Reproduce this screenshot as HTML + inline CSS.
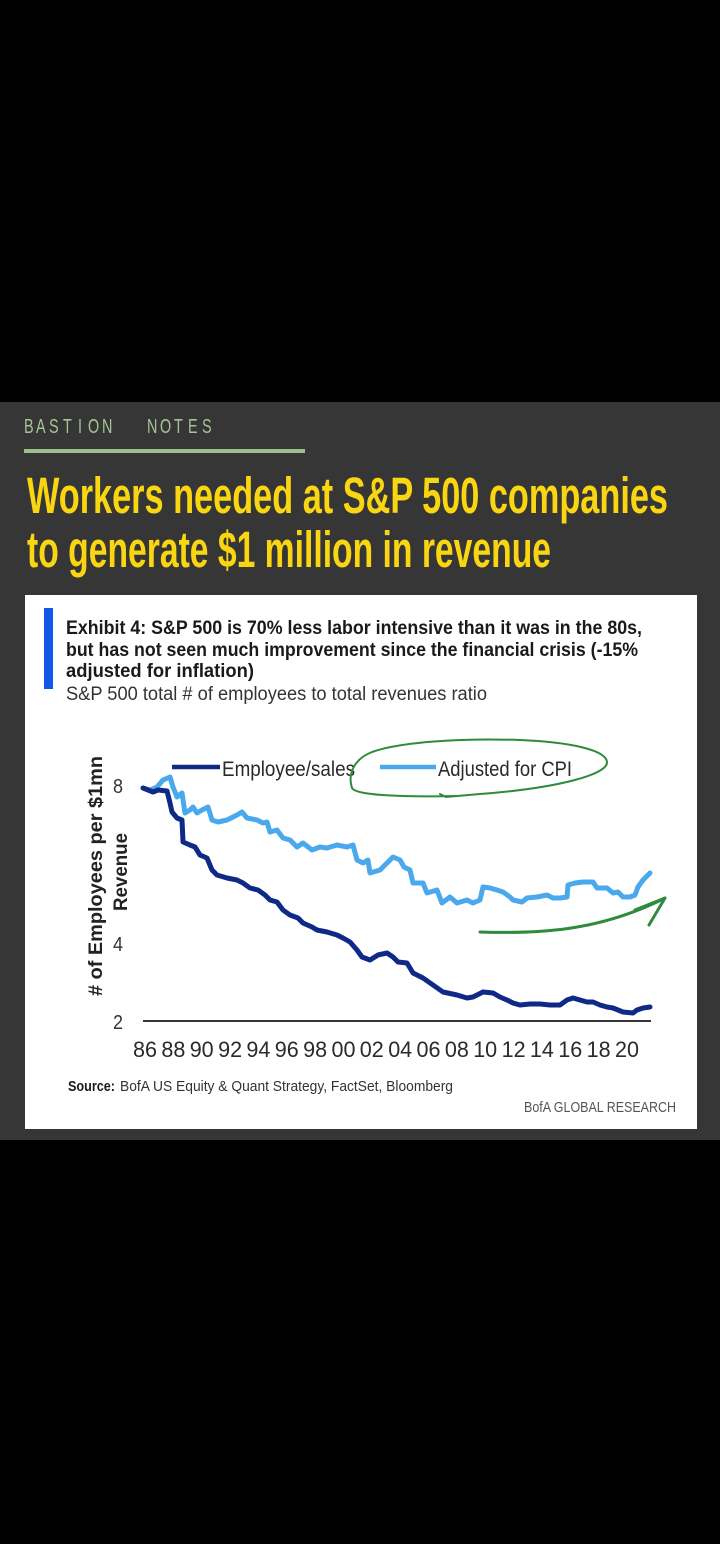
<!DOCTYPE html>
<html>
<head>
<meta charset="utf-8">
<style>
  html,body{margin:0;padding:0;background:#000;}
  body{width:720px;height:1544px;overflow:hidden;}
  svg{display:block;}
</style>
</head>
<body>
<svg width="720" height="1544" viewBox="0 0 720 1544" xmlns="http://www.w3.org/2000/svg">
  <rect x="0" y="0" width="720" height="1544" fill="#000"/>
  <!-- dark panel -->
  <rect x="0" y="402" width="720" height="738" fill="#363636"/>

  <!-- BASTION NOTES -->
  <g transform="translate(0,433) scale(0.72,1)">
    <text y="0" font-family="Liberation Sans, sans-serif" font-size="20" fill="#a6c495"
          x="33.3 50 68.1 87.5 108.3 122.2 141.7 204.2 222.2 241.7 261.1 280.6">BASTIONNOTES</text>
  </g>
  <rect x="24" y="449" width="281" height="4" fill="#9dbf8b"/>

  <!-- Title -->
  <text x="27" y="513" font-family="Liberation Sans, sans-serif" font-weight="bold" font-size="51" fill="#f9d611"
        textLength="641" lengthAdjust="spacingAndGlyphs">Workers needed at S&amp;P 500 companies</text>
  <text x="27" y="567" font-family="Liberation Sans, sans-serif" font-weight="bold" font-size="51" fill="#f9d611"
        textLength="524" lengthAdjust="spacingAndGlyphs">to generate $1 million in revenue</text>

  <!-- white card -->
  <rect x="25" y="595" width="672" height="534" fill="#ffffff"/>
  <rect x="44" y="608" width="9" height="81" fill="#1356e8"/>

  <g font-family="Liberation Sans, sans-serif" fill="#1a1a1a">
    <text x="66" y="634" font-size="19" font-weight="bold" textLength="576" lengthAdjust="spacingAndGlyphs">Exhibit 4: S&amp;P 500 is 70% less labor intensive than it was in the 80s,</text>
    <text x="66" y="656" font-size="19" font-weight="bold" textLength="572" lengthAdjust="spacingAndGlyphs">but has not seen much improvement since the financial crisis (-15%</text>
    <text x="66" y="677" font-size="19" font-weight="bold" textLength="188" lengthAdjust="spacingAndGlyphs">adjusted for inflation)</text>
    <text x="66" y="700" font-size="19" fill="#333" textLength="421" lengthAdjust="spacingAndGlyphs">S&amp;P 500 total # of employees to total revenues ratio</text>
  </g>

  <!-- legend -->
  <line x1="172" y1="767" x2="220" y2="767" stroke="#0f2a86" stroke-width="4.5"/>
  <text x="222" y="776" font-family="Liberation Sans, sans-serif" font-size="21" fill="#2a2a2a" textLength="133" lengthAdjust="spacingAndGlyphs">Employee/sales</text>
  <line x1="380" y1="767" x2="436" y2="767" stroke="#4aa8ec" stroke-width="4.5"/>
  <text x="438" y="776" font-family="Liberation Sans, sans-serif" font-size="21" fill="#2a2a2a" textLength="134" lengthAdjust="spacingAndGlyphs">Adjusted for CPI</text>

  <!-- y-axis title -->
  <g font-family="Liberation Sans, sans-serif" font-weight="bold" font-size="19" fill="#222">
    <text transform="translate(102,876) rotate(-90)" text-anchor="middle" textLength="240" lengthAdjust="spacingAndGlyphs">
      # of Employees per $1mn</text>
    <text transform="translate(127,872) rotate(-90)" text-anchor="middle" textLength="78" lengthAdjust="spacingAndGlyphs">Revenue</text>
  </g>

  <!-- y ticks -->
  <g font-family="Liberation Sans, sans-serif" font-size="20" fill="#333" text-anchor="middle">
    <text x="118" y="793" textLength="10" lengthAdjust="spacingAndGlyphs">8</text>
    <text x="118" y="951" textLength="10" lengthAdjust="spacingAndGlyphs">4</text>
    <text x="118" y="1029" textLength="10" lengthAdjust="spacingAndGlyphs">2</text>
  </g>

  <!-- axis line -->
  <line x1="143" y1="1021" x2="651" y2="1021" stroke="#333" stroke-width="2"/>

  <!-- x labels -->
  <g font-family="Liberation Sans, sans-serif" font-size="22" fill="#2a2a2a" text-anchor="middle">
    <text x="145" y="1057" textLength="24" lengthAdjust="spacingAndGlyphs">86</text>
    <text x="173.4" y="1057" textLength="24" lengthAdjust="spacingAndGlyphs">88</text>
    <text x="201.7" y="1057" textLength="24" lengthAdjust="spacingAndGlyphs">90</text>
    <text x="230.1" y="1057" textLength="24" lengthAdjust="spacingAndGlyphs">92</text>
    <text x="258.4" y="1057" textLength="24" lengthAdjust="spacingAndGlyphs">94</text>
    <text x="286.8" y="1057" textLength="24" lengthAdjust="spacingAndGlyphs">96</text>
    <text x="315.1" y="1057" textLength="24" lengthAdjust="spacingAndGlyphs">98</text>
    <text x="343.5" y="1057" textLength="24" lengthAdjust="spacingAndGlyphs">00</text>
    <text x="371.8" y="1057" textLength="24" lengthAdjust="spacingAndGlyphs">02</text>
    <text x="400.2" y="1057" textLength="24" lengthAdjust="spacingAndGlyphs">04</text>
    <text x="428.5" y="1057" textLength="24" lengthAdjust="spacingAndGlyphs">06</text>
    <text x="456.9" y="1057" textLength="24" lengthAdjust="spacingAndGlyphs">08</text>
    <text x="485.2" y="1057" textLength="24" lengthAdjust="spacingAndGlyphs">10</text>
    <text x="513.6" y="1057" textLength="24" lengthAdjust="spacingAndGlyphs">12</text>
    <text x="541.9" y="1057" textLength="24" lengthAdjust="spacingAndGlyphs">14</text>
    <text x="570.3" y="1057" textLength="24" lengthAdjust="spacingAndGlyphs">16</text>
    <text x="598.6" y="1057" textLength="24" lengthAdjust="spacingAndGlyphs">18</text>
    <text x="627" y="1057" textLength="24" lengthAdjust="spacingAndGlyphs">20</text>
  </g>

  <!-- series: adjusted for CPI -->
  <polyline fill="none" stroke="#4aa8ec" stroke-width="5" stroke-linejoin="round" stroke-linecap="round"
    points="143,788 150,790 157,787 163,780 170,777 173,787 177,797 182,793 185,813 190,810 193,807 197,813 202,810 208,807 212,820 218,822 227,820 237,815 242,812 247,818 257,820 263,823 267,822 270,832 277,830 283,838 290,840 297,847 303,843 312,850 320,847 327,848 337,845 347,847 353,845 357,860 363,863 368,860 370,873 380,870 387,863 393,857 400,860 404,867 410,870 413,883 423,883 427,893 437,890 442,903 450,897 457,903 467,900 473,903 480,900 483,887 490,888 497,890 503,892 510,897 513,900 522,902 527,898 537,897 547,895 553,898 560,898 567,897 568,885 575,883 583,882 593,882 597,888 607,888 613,893 618,892 623,897 630,897 635,895 638,887 643,880 650,873"/>

  <!-- series: employee/sales -->
  <polyline fill="none" stroke="#0f2a86" stroke-width="5" stroke-linejoin="round" stroke-linecap="round"
    points="143,788 153,792 158,790 167,791 170,803 172,812 177,818 182,820 183,842 190,845 195,847 200,855 207,858 212,870 217,875 227,878 237,880 243,883 250,888 258,890 265,895 270,900 277,902 283,910 290,915 298,918 303,923 312,927 317,930 327,932 337,935 343,938 350,942 357,950 362,957 370,960 378,955 387,953 393,957 398,962 407,963 413,973 423,978 433,985 443,992 457,995 467,998 473,997 483,992 493,993 500,997 507,1000 513,1003 520,1005 530,1004 540,1004 550,1005 560,1005 567,1000 573,998 580,1000 587,1002 593,1002 600,1005 607,1007 613,1008 623,1012 633,1013 637,1010 643,1008 650,1007"/>

  <!-- green hand-drawn annotations -->
  <path d="M455,796 C410,797 356,796 352,788 C348,776 352,760 372,752 C400,742 460,738 520,740 C570,742 606,750 607,762 C608,774 560,788 480,794 L446,797 L440,794"
        fill="none" stroke="#2f8a3c" stroke-width="2" stroke-linecap="round"/>
  <path d="M480,932 C540,934 600,931 665,898" fill="none" stroke="#2f8a3c" stroke-width="3" stroke-linecap="round"/>
  <path d="M635,910 L665,898 L649,925" fill="none" stroke="#2f8a3c" stroke-width="3" stroke-linecap="round" stroke-linejoin="round"/>

  <!-- source -->
  <text x="68" y="1091" font-family="Liberation Sans, sans-serif" font-size="15" font-weight="bold" fill="#1a1a1a" textLength="47" lengthAdjust="spacingAndGlyphs">Source:</text>
  <text x="120" y="1091" font-family="Liberation Sans, sans-serif" font-size="15" fill="#333" textLength="333" lengthAdjust="spacingAndGlyphs">BofA US Equity &amp; Quant Strategy, FactSet, Bloomberg</text>
  <text x="524" y="1112" font-family="Liberation Sans, sans-serif" font-size="15" fill="#555" textLength="152" lengthAdjust="spacingAndGlyphs">BofA GLOBAL RESEARCH</text>
</svg>
</body>
</html>
